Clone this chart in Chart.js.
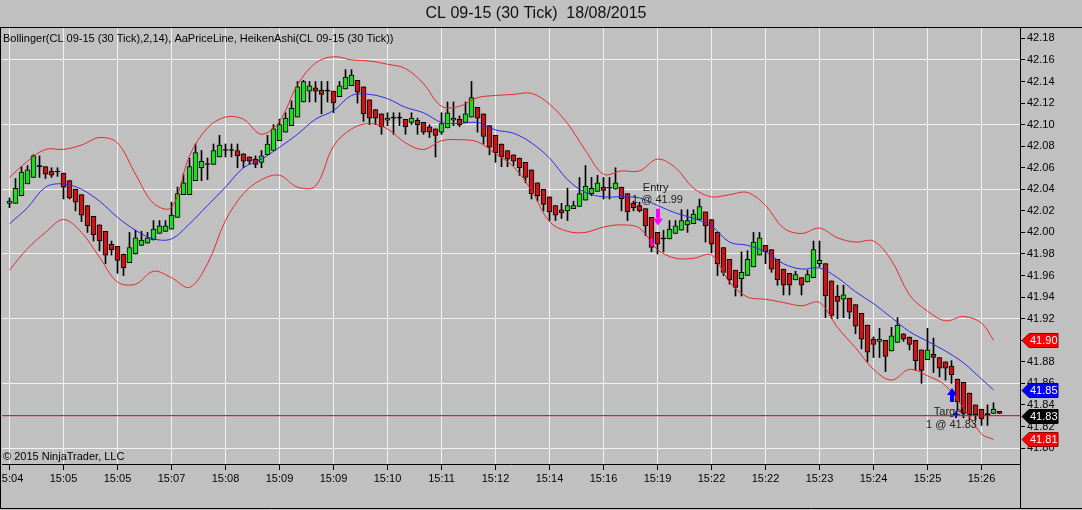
<!DOCTYPE html>
<html>
<head>
<meta charset="utf-8">
<script src="https://cdn.jsdelivr.net/npm/chart.js@4.4.0/dist/chart.umd.min.js"></script>
<style>
  html, body { margin: 0; padding: 0; background: #c0c0c0; overflow: hidden; }
  #wrap { position: relative; width: 1082px; height: 510px; }
</style>
</head>
<body>
<div id="wrap"><canvas id="chart" width="1082" height="510"></canvas></div>
<script>
// Heiken Ashi bars, one per 30 tick bar
const haOpen = [
  42.027, 42.027, 42.034, 42.045, 42.051, 42.061, 42.061, 42.057, 42.056, 42.055,
  42.048, 42.040, 42.035, 42.025, 42.015, 42.007, 42.001, 41.989, 41.987, 41.980,
  41.972, 41.980, 41.988, 41.990, 41.993, 41.999, 42.001, 42.003, 42.014, 42.035,
  42.035, 42.048, 42.060, 42.063, 42.063, 42.070, 42.076, 42.076, 42.076, 42.073,
  42.070, 42.068, 42.065, 42.072, 42.076, 42.085, 42.093, 42.099, 42.107, 42.121,
  42.131, 42.134, 42.132, 42.131, 42.131, 42.126, 42.133, 42.136, 42.141, 42.135,
  42.123, 42.114, 42.110, 42.104, 42.106, 42.106, 42.105, 42.102, 42.104, 42.102,
  42.098, 42.096, 42.093, 42.097, 42.104, 42.105, 42.102, 42.107, 42.116, 42.110,
  42.099, 42.090, 42.082, 42.076, 42.072, 42.069, 42.065, 42.058, 42.046, 42.040,
  42.033, 42.025, 42.021, 42.020, 42.022, 42.024, 42.030, 42.036, 42.038, 42.042,
  42.041, 42.040, 42.042, 42.036, 42.027, 42.025, 42.022, 42.014, 42.000, 41.994,
  41.994, 41.999, 42.002, 42.007, 42.008, 42.012, 42.019, 42.012, 42.000, 41.986,
  41.975, 41.965, 41.957, 41.960, 41.968, 41.979, 41.988, 41.984, 41.975, 41.966,
  41.962, 41.956, 41.958, 41.954, 41.958, 41.971, 41.971, 41.955, 41.941, 41.938,
  41.939, 41.933, 41.925, 41.914, 41.901, 41.899, 41.900, 41.890, 41.898, 41.906,
  41.903, 41.900, 41.891, 41.882, 41.887, 41.884, 41.880, 41.876, 41.864, 41.861,
  41.851, 41.840, 41.836, 41.831, 41.832, 41.834
];
const haClose = [
  42.029, 42.041, 42.056, 42.058, 42.071, 42.061, 42.054, 42.053, 42.056, 42.042,
  42.032, 42.028, 42.016, 42.006, 41.998, 41.992, 41.979, 41.984, 41.974, 41.967,
  41.986, 41.995, 41.993, 41.995, 42.003, 42.006, 42.006, 42.016, 42.036, 42.046,
  42.061, 42.074, 42.066, 42.063, 42.076, 42.081, 42.076, 42.076, 42.071, 42.066,
  42.066, 42.063, 42.071, 42.082, 42.096, 42.100, 42.106, 42.115, 42.135, 42.140,
  42.136, 42.131, 42.128, 42.131, 42.120, 42.136, 42.144, 42.146, 42.130, 42.110,
  42.106, 42.106, 42.098, 42.106, 42.106, 42.106, 42.098, 42.106, 42.100, 42.093,
  42.093, 42.090, 42.101, 42.111, 42.106, 42.100, 42.110, 42.125, 42.106, 42.089,
  42.079, 42.074, 42.070, 42.068, 42.066, 42.060, 42.051, 42.036, 42.034, 42.026,
  42.019, 42.016, 42.018, 42.025, 42.025, 42.036, 42.043, 42.041, 42.046, 42.039,
  42.041, 42.046, 42.031, 42.019, 42.023, 42.020, 42.006, 41.986, 41.989, 41.994,
  42.003, 42.006, 42.011, 42.011, 42.017, 42.024, 42.006, 41.989, 41.971, 41.963,
  41.956, 41.949, 41.963, 41.975, 41.991, 41.995, 41.982, 41.966, 41.956, 41.951,
  41.951, 41.961, 41.951, 41.961, 41.984, 41.974, 41.941, 41.923, 41.936, 41.942,
  41.926, 41.913, 41.901, 41.889, 41.896, 41.901, 41.885, 41.904, 41.914, 41.901,
  41.896, 41.881, 41.872, 41.891, 41.884, 41.874, 41.874, 41.868, 41.843, 41.832,
  41.831, 41.831, 41.827, 41.831, 41.836, 41.832
];
const haHigh = [
  42.032, 42.050, 42.061, 42.062, 42.072, 42.071, 42.061, 42.060, 42.060, 42.055,
  42.048, 42.040, 42.035, 42.025, 42.015, 42.007, 42.001, 41.992, 41.987, 41.980,
  42.000, 42.002, 42.001, 42.000, 42.011, 42.011, 42.011, 42.028, 42.042, 42.054,
  42.069, 42.082, 42.076, 42.069, 42.082, 42.090, 42.082, 42.082, 42.082, 42.073,
  42.070, 42.071, 42.076, 42.090, 42.100, 42.105, 42.111, 42.122, 42.140, 42.141,
  42.140, 42.140, 42.140, 42.140, 42.131, 42.140, 42.151, 42.151, 42.141, 42.135,
  42.123, 42.114, 42.110, 42.111, 42.111, 42.111, 42.105, 42.111, 42.106, 42.102,
  42.100, 42.096, 42.111, 42.121, 42.121, 42.108, 42.121, 42.140, 42.116, 42.110,
  42.099, 42.090, 42.082, 42.076, 42.072, 42.069, 42.065, 42.058, 42.046, 42.040,
  42.033, 42.025, 42.027, 42.041, 42.029, 42.051, 42.062, 42.051, 42.053, 42.051,
  42.051, 42.060, 42.042, 42.036, 42.029, 42.028, 42.022, 42.014, 42.000, 42.002,
  42.011, 42.011, 42.021, 42.021, 42.021, 42.031, 42.019, 42.012, 42.000, 41.986,
  41.975, 41.965, 41.982, 41.983, 42.000, 42.000, 41.988, 41.984, 41.975, 41.966,
  41.962, 41.964, 41.958, 41.965, 41.992, 41.992, 41.971, 41.955, 41.951, 41.951,
  41.939, 41.933, 41.925, 41.914, 41.903, 41.911, 41.900, 41.912, 41.921, 41.906,
  41.903, 41.900, 41.891, 41.911, 41.902, 41.884, 41.880, 41.881, 41.864, 41.861,
  41.851, 41.840, 41.836, 41.840, 41.842, 41.834
];
const haLow = [
  42.023, 42.027, 42.034, 42.045, 42.051, 42.051, 42.050, 42.051, 42.052, 42.031,
  42.031, 42.020, 42.010, 42.000, 41.992, 41.983, 41.971, 41.979, 41.962, 41.960,
  41.972, 41.980, 41.988, 41.990, 41.993, 41.999, 42.001, 42.003, 42.014, 42.035,
  42.035, 42.048, 42.048, 42.049, 42.063, 42.070, 42.070, 42.070, 42.060, 42.060,
  42.063, 42.060, 42.060, 42.072, 42.076, 42.085, 42.093, 42.099, 42.107, 42.121,
  42.121, 42.121, 42.110, 42.121, 42.111, 42.126, 42.133, 42.136, 42.120, 42.103,
  42.100, 42.100, 42.091, 42.099, 42.091, 42.099, 42.091, 42.100, 42.091, 42.091,
  42.088, 42.070, 42.091, 42.097, 42.099, 42.098, 42.102, 42.107, 42.093, 42.082,
  42.072, 42.065, 42.061, 42.061, 42.062, 42.053, 42.046, 42.031, 42.029, 42.020,
  42.011, 42.011, 42.013, 42.011, 42.022, 42.024, 42.030, 42.034, 42.038, 42.031,
  42.031, 42.040, 42.020, 42.011, 42.020, 42.019, 41.997, 41.982, 41.980, 41.982,
  41.994, 41.999, 42.002, 42.000, 42.008, 42.012, 41.991, 41.981, 41.960, 41.960,
  41.952, 41.941, 41.941, 41.960, 41.968, 41.979, 41.971, 41.963, 41.951, 41.942,
  41.942, 41.956, 41.942, 41.954, 41.958, 41.968, 41.921, 41.920, 41.920, 41.921,
  41.920, 41.906, 41.892, 41.880, 41.884, 41.884, 41.871, 41.890, 41.898, 41.899,
  41.891, 41.872, 41.860, 41.882, 41.870, 41.866, 41.863, 41.860, 41.835, 41.828,
  41.826, 41.826, 41.821, 41.821, 41.832, 41.832
];

// Bollinger(2,14) read every third bar
const bandBars = [
  0, 3, 6, 9, 12, 15, 18, 21, 24, 27, 30, 33, 36, 39, 42, 45, 48, 51, 54, 57,
  60, 63, 66, 69, 72, 75, 78, 81, 84, 87, 90, 93, 96, 99, 102, 105, 108, 111, 114, 117,
  120, 123, 126, 129, 132, 135, 138, 141, 144, 147, 150, 153, 156, 159, 162, 164
];
const bandUpper = [
  42.051, 42.066, 42.077, 42.077, 42.081, 42.088, 42.083, 42.054, 42.027, 42.023,
  42.071, 42.097, 42.107, 42.105, 42.091, 42.103, 42.137, 42.157, 42.163, 42.160,
  42.159, 42.156, 42.152, 42.138, 42.117, 42.117, 42.125, 42.127, 42.128, 42.129,
  42.119, 42.101, 42.076, 42.054, 42.057, 42.057, 42.068, 42.060, 42.041, 42.033,
  42.035, 42.037, 42.025, 42.004, 41.999, 42.004, 41.995, 41.991, 41.992, 41.974,
  41.942, 41.927, 41.918, 41.922, 41.916, 41.900
];
const bandMiddle = [
  42.008, 42.023, 42.042, 42.045, 42.040, 42.029, 42.014, 42.002, 41.994, 41.994,
  42.008, 42.025, 42.042, 42.060, 42.068, 42.079, 42.091, 42.105, 42.113, 42.127,
  42.128, 42.124, 42.116, 42.111, 42.102, 42.101, 42.102, 42.095, 42.092, 42.083,
  42.069, 42.049, 42.037, 42.033, 42.033, 42.032, 42.025, 42.018, 42.013, 42.006,
  41.991, 41.988, 41.982, 41.971, 41.966, 41.967, 41.958, 41.945, 41.934, 41.921,
  41.908, 41.899, 41.890, 41.879, 41.864, 41.854
];
const bandLower = [
  41.965, 41.985, 42.000, 42.012, 42.000, 41.977, 41.954, 41.952, 41.964, 41.958,
  41.949, 41.971, 42.011, 42.036, 42.049, 42.053, 42.042, 42.043, 42.080, 42.096,
  42.101, 42.096, 42.083, 42.077, 42.085, 42.086, 42.084, 42.073, 42.061, 42.039,
  42.010, 42.001, 42.000, 42.005, 42.007, 42.004, 41.984, 41.976, 41.976, 41.979,
  41.954, 41.940, 41.938, 41.935, 41.932, 41.935, 41.912, 41.893, 41.873, 41.863,
  41.873, 41.867, 41.858, 41.837, 41.813, 41.808
];

const lastPrice = 41.83;
const timeLabels = ['15:04', '15:05', '15:05', '15:07', '15:08', '15:09', '15:09', '15:10', '15:11', '15:12',
  '15:14', '15:16', '15:19', '15:22', '15:22', '15:23', '15:24', '15:25', '15:26'];
const priceTicks = [41.80, 41.82, 41.84, 41.86, 41.88, 41.90, 41.92, 41.94, 41.96, 41.98,
  42.00, 42.02, 42.04, 42.06, 42.08, 42.10, 42.12, 42.14, 42.16, 42.18];

// execution markers and their texts
const arrows = [
  { bar: 108, from: 42.022, to: 42.0065, color: '#ff00ff', big: true },
  { bar: 107, from: 41.9945, to: 41.987, color: '#ff00ff', big: false },
  { bar: 157, from: 41.8427, to: 41.8557, color: '#0000ff', big: true },
  { bar: 157.7, from: 41.8278, to: 41.8343, color: '#0000ff', big: false }
];
const notes = [
  { bar: 107.7, price: 42.041, text: 'Entry' },
  { bar: 108, price: 42.030, text: '1 @ 41.99' },
  { bar: 156.6, price: 41.833, text: 'Target' },
  { bar: 157, price: 41.821, text: '1 @ 41.83' }
];
const flags = [
  { value: bandUpper[bandUpper.length - 1], color: '#ff0000', edge: '#900000' },
  { value: bandMiddle[bandMiddle.length - 1], color: '#0000ff', edge: '#000090' },
  { value: lastPrice, color: '#000000', edge: '#000000' },
  { value: bandLower[bandLower.length - 1], color: '#ff0000', edge: '#900000' }
];

const FONT = 'Arial, "Liberation Sans", sans-serif';
const GREEN = '#20dc20';
const RED = '#cc1414';
const X_MIN = -1.25, X_MAX = -1.25 + 1018 / 6;

function drawArrow(ctx, x, yTail, yTip, color, big) {
  const dir = yTip > yTail ? 1 : -1;
  const headH = big ? 7 : 4, headW = big ? 10 : 6, shaftW = big ? 4 : 2;
  const yBase = yTip - dir * headH;
  ctx.fillStyle = color;
  ctx.beginPath();
  ctx.rect(x - shaftW / 2, Math.min(yTail, yBase), shaftW, Math.abs(yBase - yTail));
  ctx.fill();
  ctx.beginPath();
  ctx.moveTo(x - headW / 2, yBase);
  ctx.lineTo(x + headW / 2, yBase);
  ctx.lineTo(x, yTip);
  ctx.closePath();
  ctx.fill();
}

const decor = {
  id: 'decor',
  beforeDraw(chart) {
    const ctx = chart.ctx;
    ctx.save();
    ctx.fillStyle = '#c0c0c0';
    ctx.fillRect(0, 0, chart.width, chart.height);
    ctx.restore();
  },
  afterDatasetsDraw(chart) {
    const ctx = chart.ctx, xs = chart.scales.x, ys = chart.scales.y;
    ctx.save();
    arrows.forEach(a => {
      drawArrow(ctx, Math.round(xs.getPixelForValue(a.bar)),
        ys.getPixelForValue(a.from), ys.getPixelForValue(a.to), a.color, a.big);
    });
    ctx.fillStyle = '#202020';
    ctx.font = '11px ' + FONT;
    ctx.textAlign = 'center';
    ctx.textBaseline = 'middle';
    notes.forEach(n => {
      ctx.fillText(n.text, xs.getPixelForValue(n.bar), ys.getPixelForValue(n.price));
    });
    ctx.textAlign = 'left';
    ctx.fillStyle = '#000';
    ctx.fillText('Bollinger(CL 09-15 (30 Tick),2,14), AaPriceLine, HeikenAshi(CL 09-15 (30 Tick))', 3, 39);
    ctx.fillText('\u00a9 2015 NinjaTrader, LLC', 3, 457);
    ctx.restore();
  },
  afterDraw(chart) {
    const ctx = chart.ctx, ys = chart.scales.y;
    const area = chart.chartArea;
    ctx.save();
    // title
    ctx.fillStyle = '#101010';
    ctx.font = '16px ' + FONT;
    ctx.textAlign = 'center';
    ctx.textBaseline = 'middle';
    ctx.fillText('CL 09-15 (30 Tick)  18/08/2015', 536, 14);
    // frame
    ctx.strokeStyle = '#000';
    ctx.lineWidth = 1;
    ctx.beginPath();
    ctx.moveTo(0, 27.5); ctx.lineTo(chart.width, 27.5);
    ctx.moveTo(0.5, 27); ctx.lineTo(0.5, 509);
    ctx.moveTo(0, 508.5); ctx.lineTo(chart.width, 508.5);
    ctx.moveTo(area.right + 0.5, area.bottom); ctx.lineTo(area.right + 0.5, 509);
    ctx.stroke();
    // price flags on the axis
    ctx.font = '11px ' + FONT;
    ctx.textAlign = 'left';
    flags.forEach(f => {
      const y = Math.round(ys.getPixelForValue(f.value)) + 0.5;
      const x0 = area.right + 2;
      ctx.beginPath();
      ctx.moveTo(x0, y);
      ctx.lineTo(x0 + 7, y - 7);
      ctx.lineTo(x0 + 36, y - 7);
      ctx.lineTo(x0 + 36, y + 7);
      ctx.lineTo(x0 + 7, y + 7);
      ctx.closePath();
      ctx.fillStyle = f.color;
      ctx.fill();
      ctx.strokeStyle = f.edge;
      ctx.stroke();
      ctx.fillStyle = '#ffffff';
      ctx.fillText(f.value.toFixed(2), x0 + 8, y);
    });
    ctx.restore();
  }
};

const bodyColors = haOpen.map((o, i) => haClose[i] > o ? GREEN : (haClose[i] < o ? RED : '#000000'));

new Chart(document.getElementById('chart'), {
  type: 'bar',
  data: {
    datasets: [
      {
        type: 'line', label: 'Upper', order: 0,
        data: bandBars.map((b, k) => ({ x: b, y: bandUpper[k] })),
        borderColor: '#e8282c', borderWidth: 1, pointRadius: 0, tension: 0.35, fill: false
      },
      {
        type: 'line', label: 'Middle', order: 0,
        data: bandBars.map((b, k) => ({ x: b, y: bandMiddle[k] })),
        borderColor: '#2a2ae6', borderWidth: 1, pointRadius: 0, tension: 0.35, fill: false
      },
      {
        type: 'line', label: 'Lower', order: 0,
        data: bandBars.map((b, k) => ({ x: b, y: bandLower[k] })),
        borderColor: '#e8282c', borderWidth: 1, pointRadius: 0, tension: 0.35, fill: false
      },
      {
        type: 'line', label: 'Price', order: 0,
        data: [{ x: X_MIN, y: lastPrice }, { x: X_MAX, y: lastPrice }],
        borderColor: '#dd0000', borderWidth: 1, pointRadius: 0, fill: false
      },
      {
        label: 'Body', order: 1, grouped: false,
        data: haOpen.map((o, i) => ({ x: i, y: [o, haClose[i]] })),
        backgroundColor: bodyColors, borderColor: '#000000', borderWidth: 1,
        borderSkipped: false, barThickness: 5, minBarLength: 1
      },
      {
        label: 'Wick', order: 2, grouped: false,
        data: haLow.map((l, i) => ({ x: i, y: [l, haHigh[i]] })),
        backgroundColor: '#000000', borderWidth: 0, barThickness: 1
      }
    ]
  },
  options: {
    responsive: false,
    devicePixelRatio: 1,
    animation: false,
    events: [],
    layout: { padding: { left: 2, top: 28, right: 0, bottom: 0 } },
    plugins: { legend: { display: false }, tooltip: { enabled: false }, title: { display: false } },
    scales: {
      x: {
        type: 'linear', min: X_MIN, max: X_MAX, bounds: 'data', offset: false,
        afterBuildTicks: s => { s.ticks = timeLabels.map((t, k) => ({ value: k * 9 })); },
        afterFit: s => { s.height = 46; s.paddingLeft = 0; s.paddingRight = 0; },
        grid: { offset: false, color: '#f2f2f2', lineWidth: 1, drawTicks: true, tickLength: 6, tickColor: '#000000' },
        border: { display: true, color: '#000000', width: 1 },
        ticks: {
          autoSkip: false, maxRotation: 0, minRotation: 0, padding: 2, color: '#000000',
          font: { family: FONT, size: 11 },
          callback: (v, i) => timeLabels[i]
        }
      },
      y: {
        position: 'right', min: 41.7852, max: 42.1896, bounds: 'data',
        afterBuildTicks: s => { s.ticks = priceTicks.map(v => ({ value: v })); },
        afterFit: s => { s.width = 62; s.paddingTop = 0; s.paddingBottom = 0; },
        grid: {
          color: c => (c.index % 3 === 0 ? '#f2f2f2' : 'rgba(0,0,0,0)'),
          lineWidth: 1, drawTicks: true, tickLength: 5, tickColor: '#000000'
        },
        border: { display: true, color: '#000000', width: 1 },
        ticks: {
          padding: 2, color: '#000000', font: { family: FONT, size: 11 },
          callback: v => Number(v).toFixed(2)
        }
      }
    }
  },
  plugins: [decor]
});
</script>
</body>
</html>
